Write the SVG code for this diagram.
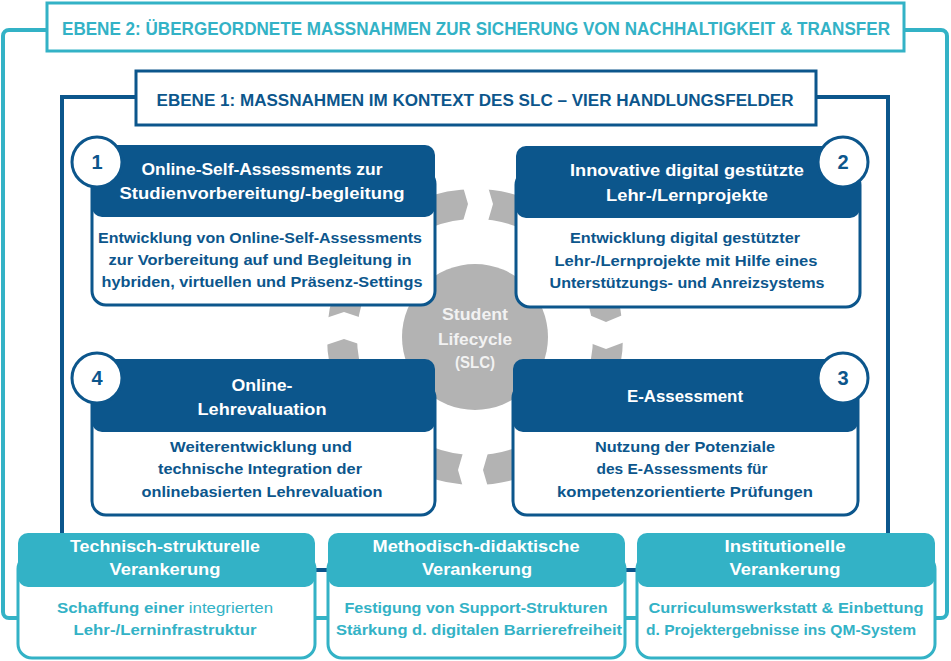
<svg xmlns="http://www.w3.org/2000/svg" width="951" height="661" viewBox="0 0 951 661">
<style>
.t{font-family:"Liberation Sans",Arial,sans-serif;font-weight:bold;text-anchor:middle}
.hw{fill:#ffffff;font-size:17px}
.bb{fill:#0c568c;font-size:15.5px}
.bt{fill:#33b2c6;font-size:15.5px}
.num{fill:#0c568c;font-size:20px}
.cen{fill:#f2f2f2;font-size:16.5px}
.hdrB{fill:#0c568c}
.bodyB{fill:#ffffff;stroke:#0c568c;stroke-width:3}
.hdrT{fill:#33b2c6}
.bodyT{fill:#ffffff;stroke:#33b2c6;stroke-width:3}
.circ{fill:#ffffff;stroke:#0c568c;stroke-width:3}
.gap{fill:#ffffff}
</style>
<rect width="951" height="661" fill="#ffffff"/>
<g id="frames">
<rect x="3" y="30" width="944" height="588" rx="6" fill="none" stroke="#33b2c6" stroke-width="4"/>
<rect x="62" y="97" width="826" height="473" fill="none" stroke="#0c568c" stroke-width="4"/>
</g>
<g id="ebene2">
<rect x="47" y="3" width="857" height="48" fill="#ffffff" stroke="#33b2c6" stroke-width="3"/>
<text class="t" x="476" y="35" font-size="17.5" fill="#33b2c6" textLength="828" lengthAdjust="spacingAndGlyphs">EBENE 2: ÜBERGEORDNETE MASSNAHMEN ZUR SICHERUNG VON NACHHALTIGKEIT &amp; TRANSFER</text>
</g>
<g id="ebene1">
<rect x="136" y="71" width="680" height="54" fill="#ffffff" stroke="#0c568c" stroke-width="3"/>
<text class="t" x="475" y="106" font-size="16" fill="#0c568c" textLength="637" lengthAdjust="spacingAndGlyphs">EBENE 1: MASSNAHMEN IM KONTEXT DES SLC – VIER HANDLUNGSFELDER</text>
</g>
<g id="cycle">
<circle cx="475" cy="337" r="133" fill="none" stroke="#b3b3b3" stroke-width="30"/>
<polygon class="gap" points="461,180 468,204 461,228 486,228 493,204 486,180"/>
<polygon class="gap" points="320,320 344,312 368,320 368,347 344,339 320,347"/>
<polygon class="gap" points="582,312 606,322 630,312 630,340 606,349 582,340"/>
<polygon class="gap" points="465,446 458,470 465,494 490,494 483,470 490,446"/>
</g>
<g id="slc">
<circle cx="475" cy="337" r="73" fill="#b3b3b3"/>
<text class="t cen" x="475" y="320" textLength="66" lengthAdjust="spacingAndGlyphs">Student</text>
<text class="t cen" x="475" y="345" textLength="74" lengthAdjust="spacingAndGlyphs">Lifecycle</text>
<text class="t cen" x="475" y="368" textLength="40" lengthAdjust="spacingAndGlyphs">(SLC)</text>
</g>
<g id="field1">
<rect class="bodyB" x="92" y="170" width="343" height="135" rx="14"/>
<rect class="hdrB" x="92" y="145" width="343" height="72" rx="10"/>
<text class="t hw" x="262" y="175" textLength="241" lengthAdjust="spacingAndGlyphs">Online-Self-Assessments zur</text>
<text class="t hw" x="262" y="199" textLength="285" lengthAdjust="spacingAndGlyphs">Studienvorbereitung/-begleitung</text>
<text class="t bb" x="260" y="243" textLength="324" lengthAdjust="spacingAndGlyphs">Entwicklung von Online-Self-Assessments</text>
<text class="t bb" x="260" y="265" textLength="303" lengthAdjust="spacingAndGlyphs">zur Vorbereitung auf und Begleitung in</text>
<text class="t bb" x="262" y="287" textLength="321" lengthAdjust="spacingAndGlyphs">hybriden, virtuellen und Präsenz-Settings</text>
<circle class="circ" cx="97" cy="162" r="25"/>
<text class="t num" x="97" y="169">1</text>
</g>
<g id="field2">
<rect class="bodyB" x="516" y="171" width="344" height="136" rx="14"/>
<rect class="hdrB" x="516" y="146" width="344" height="72" rx="10"/>
<text class="t hw" x="687" y="176" textLength="234" lengthAdjust="spacingAndGlyphs">Innovative digital gestützte</text>
<text class="t hw" x="687" y="201" textLength="162" lengthAdjust="spacingAndGlyphs">Lehr-/Lernprojekte</text>
<text class="t bb" x="685" y="243" textLength="230" lengthAdjust="spacingAndGlyphs">Entwicklung digital gestützter</text>
<text class="t bb" x="686" y="266" textLength="263" lengthAdjust="spacingAndGlyphs">Lehr-/Lernprojekte mit Hilfe eines</text>
<text class="t bb" x="687" y="288" textLength="275" lengthAdjust="spacingAndGlyphs">Unterstützungs- und Anreizsystems</text>
<circle class="circ" cx="843" cy="162" r="25"/>
<text class="t num" x="843" y="169">2</text>
</g>
<g id="field3">
<rect class="bodyB" x="513" y="384" width="345" height="131" rx="14"/>
<rect class="hdrB" x="513" y="359" width="345" height="73" rx="10"/>
<text class="t hw" x="685" y="402" textLength="116" lengthAdjust="spacingAndGlyphs">E-Assessment</text>
<text class="t bb" x="685" y="452" textLength="180" lengthAdjust="spacingAndGlyphs">Nutzung der Potenziale</text>
<text class="t bb" x="682" y="474" textLength="171" lengthAdjust="spacingAndGlyphs">des E-Assessments für</text>
<text class="t bb" x="685" y="497" textLength="256" lengthAdjust="spacingAndGlyphs">kompetenzorientierte Prüfungen</text>
<circle class="circ" cx="843" cy="378" r="25"/>
<text class="t num" x="843" y="385">3</text>
</g>
<g id="field4">
<rect class="bodyB" x="92" y="384" width="343" height="131" rx="14"/>
<rect class="hdrB" x="92" y="359" width="343" height="73" rx="10"/>
<text class="t hw" x="262" y="391" textLength="61" lengthAdjust="spacingAndGlyphs">Online-</text>
<text class="t hw" x="262" y="415" textLength="129" lengthAdjust="spacingAndGlyphs">Lehrevaluation</text>
<text class="t bb" x="261" y="452" textLength="182" lengthAdjust="spacingAndGlyphs">Weiterentwicklung und</text>
<text class="t bb" x="260" y="474" textLength="204" lengthAdjust="spacingAndGlyphs">technische Integration der</text>
<text class="t bb" x="262" y="497" textLength="241" lengthAdjust="spacingAndGlyphs">onlinebasierten Lehrevaluation</text>
<circle class="circ" cx="97" cy="378" r="25"/>
<text class="t num" x="97" y="385">4</text>
</g>
<g id="anchor-tech">
<rect class="bodyT" x="18" y="555" width="297" height="103" rx="14"/>
<rect class="hdrT" x="18" y="533" width="297" height="54" rx="10"/>
<text class="t hw" x="165" y="552" textLength="190" lengthAdjust="spacingAndGlyphs">Technisch-strukturelle</text>
<text class="t hw" x="165" y="575" textLength="111" lengthAdjust="spacingAndGlyphs">Verankerung</text>
<text class="t bt" x="165" y="613" textLength="216" lengthAdjust="spacingAndGlyphs">Schaffung einer <tspan font-weight="normal">integrierten</tspan></text>
<text class="t bt" x="165" y="635" textLength="183" lengthAdjust="spacingAndGlyphs">Lehr-/Lerninfrastruktur</text>
</g>
<g id="anchor-method">
<rect class="bodyT" x="328" y="555" width="297" height="103" rx="14"/>
<rect class="hdrT" x="328" y="533" width="297" height="54" rx="10"/>
<text class="t hw" x="476" y="552" textLength="207" lengthAdjust="spacingAndGlyphs">Methodisch-didaktische</text>
<text class="t hw" x="477" y="575" textLength="110" lengthAdjust="spacingAndGlyphs">Verankerung</text>
<text class="t bt" x="476" y="613" textLength="263" lengthAdjust="spacingAndGlyphs">Festigung von Support-Strukturen</text>
<text class="t bt" x="479" y="635" textLength="286" lengthAdjust="spacingAndGlyphs">Stärkung d. digitalen Barrierefreiheit</text>
</g>
<g id="anchor-inst">
<rect class="bodyT" x="637" y="555" width="298" height="103" rx="14"/>
<rect class="hdrT" x="637" y="533" width="298" height="54" rx="10"/>
<text class="t hw" x="785" y="552" textLength="121" lengthAdjust="spacingAndGlyphs">Institutionelle</text>
<text class="t hw" x="785" y="575" textLength="111" lengthAdjust="spacingAndGlyphs">Verankerung</text>
<text class="t bt" x="786" y="613" textLength="275" lengthAdjust="spacingAndGlyphs">Curriculumswerkstatt &amp; Einbettung</text>
<text class="t bt" x="781" y="635" textLength="270" lengthAdjust="spacingAndGlyphs">d. Projektergebnisse ins QM-System</text>
</g>
</svg>
